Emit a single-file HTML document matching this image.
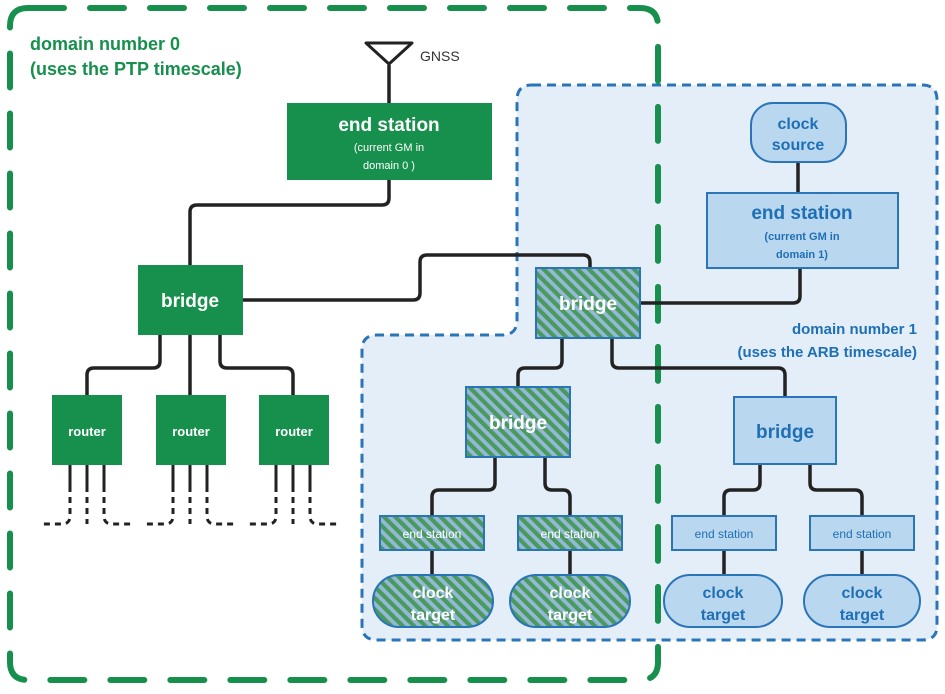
<!DOCTYPE html>
<html><head><meta charset="utf-8"><style>
html,body{margin:0;padding:0;background:#fff;}
svg{display:block;font-family:"Liberation Sans",sans-serif;}
</style></head><body>
<svg width="945" height="694" viewBox="0 0 945 694" xmlns="http://www.w3.org/2000/svg">
<defs>
<pattern id="h" width="8" height="8" patternUnits="userSpaceOnUse" patternTransform="rotate(-45)">
<rect width="8" height="8" fill="#93b9d6"/>
<rect width="4.2" height="8" fill="#4a9a5e"/>
</pattern>
</defs>
<!-- domain 1 region -->
<path d="M532,85 H922 Q937,85 937,100 V626 Q937,640 922,640 H377 Q362,640 362,625 V350 Q362,335 377,335 H502 Q517,335 517,320 V100 Q517,85 532,85 Z" fill="#e3eef8" stroke="#2a74b8" stroke-width="3" stroke-dasharray="9,6"/>
<!-- domain 0 border -->
<path d="M30,8 H640 Q658,8 658,26 V662 Q658,680 640,680 H28 Q10,680 10,662 V26 Q10,8 28,8 Z" fill="none" stroke="#16904c" stroke-width="6" stroke-dasharray="34,26" stroke-linecap="round"/>
<text x="30" y="50" font-size="18" font-weight="bold" fill="#16904c">domain number 0</text>
<text x="30" y="75" font-size="18" font-weight="bold" fill="#16904c">(uses the PTP timescale)</text>
<text x="917" y="334" font-size="15" font-weight="bold" fill="#1f6fb5" text-anchor="end">domain number 1</text>
<text x="917" y="357" font-size="15" font-weight="bold" fill="#1f6fb5" text-anchor="end">(uses the ARB timescale)</text>
<!-- connectors -->
<g fill="none" stroke="#222" stroke-width="3.5" stroke-linejoin="round">
<path d="M389,65 V103"/>
<path d="M389,180 V198 Q389,205 382,205 H197 Q190,205 190,212 V265"/>
<path d="M243,300 H413 Q420,300 420,293 V262 Q420,255 427,255 H583 Q590,255 590,262 V270"/>
<path d="M640,303 H793 Q800,303 800,296 V268"/>
<path d="M798,162 V193"/>
<path d="M562,338 V361 Q562,368 555,368 H525 Q518,368 518,375 V387"/>
<path d="M612,338 V361 Q612,368 619,368 H778 Q785,368 785,375 V397"/>
<path d="M495,457 V483 Q495,490 488,490 H439 Q432,490 432,497 V516"/>
<path d="M545,457 V483 Q545,490 552,490 H563 Q570,490 570,497 V516"/>
<path d="M760,464 V483 Q760,490 753,490 H731 Q724,490 724,497 V516"/>
<path d="M810,464 V483 Q810,490 817,490 H855 Q862,490 862,497 V516"/>
<path d="M432,550 V575 M570,550 V575 M724,550 V575 M862,550 V575"/>
<path d="M160,335 V361 Q160,368 153,368 H94 Q87,368 87,375 V395"/>
<path d="M190,335 V395"/>
<path d="M220,335 V361 Q220,368 227,368 H286 Q293,368 293,375 V395"/>
</g>
<!-- router leads -->
<g fill="none" stroke="#222" stroke-width="3">
<g id="rl">
<path d="M70,465 V492 M87,465 V492 M104,465 V492"/>
<path d="M70,497 V516 Q70,524 62,524 H40" stroke-dasharray="6,5"/>
<path d="M87,497 V524" stroke-dasharray="6,5"/>
<path d="M104,497 V516 Q104,524 112,524 H134" stroke-dasharray="6,5"/>
</g>
<use href="#rl" x="103"/>
<use href="#rl" x="206"/>
</g>
<!-- antenna -->
<path d="M366,43 H412 L389,64 Z" fill="none" stroke="#222" stroke-width="3" stroke-linejoin="round"/>
<text x="420" y="61" font-size="14" fill="#333">GNSS</text>
<!-- green nodes -->
<rect x="287" y="103" width="205" height="77" fill="#16904c"/>
<text x="389" y="131" font-size="19" font-weight="bold" fill="#fff" text-anchor="middle">end station</text>
<text x="389" y="151" font-size="11" fill="#fff" text-anchor="middle">(current GM in</text>
<text x="389" y="169" font-size="11" fill="#fff" text-anchor="middle">domain 0 )</text>
<rect x="138" y="265" width="105" height="70" fill="#16904c"/>
<text x="190" y="307" font-size="19" font-weight="bold" fill="#fff" text-anchor="middle">bridge</text>
<g font-size="13" font-weight="bold" fill="#fff" text-anchor="middle">
<rect x="52" y="395" width="70" height="70" fill="#16904c"/><text x="87" y="436">router</text>
<rect x="156" y="395" width="70" height="70" fill="#16904c"/><text x="191" y="436">router</text>
<rect x="259" y="395" width="70" height="70" fill="#16904c"/><text x="294" y="436">router</text>
</g>
<!-- hatched nodes -->
<g stroke="#2a74b8" stroke-width="2" fill="url(#h)">
<rect x="536" y="268" width="104" height="70"/>
<rect x="466" y="387" width="104" height="70"/>
<rect x="380" y="516" width="104" height="34"/>
<rect x="518" y="516" width="104" height="34"/>
<rect x="373" y="575" width="120" height="52" rx="26"/>
<rect x="510" y="575" width="120" height="52" rx="26"/>
</g>
<g fill="#fff" text-anchor="middle" font-weight="bold">
<text x="588" y="310" font-size="19">bridge</text>
<text x="518" y="429" font-size="19">bridge</text>
<text x="432" y="538" font-size="12" font-weight="normal">end station</text>
<text x="570" y="538" font-size="12" font-weight="normal">end station</text>
<text x="433" y="598" font-size="16">clock</text>
<text x="433" y="620" font-size="16">target</text>
<text x="570" y="598" font-size="16">clock</text>
<text x="570" y="620" font-size="16">target</text>
</g>
<!-- blue nodes -->
<g stroke="#2a74b8" stroke-width="2" fill="#b9d7ee">
<rect x="751" y="103" width="95" height="59" rx="22"/>
<rect x="707" y="193" width="191" height="75"/>
<rect x="734" y="397" width="102" height="67"/>
<rect x="672" y="516" width="104" height="34"/>
<rect x="810" y="516" width="104" height="34"/>
<rect x="664" y="575" width="118" height="52" rx="26"/>
<rect x="804" y="575" width="116" height="52" rx="26"/>
</g>
<g fill="#1f6fb5" text-anchor="middle" font-weight="bold">
<text x="798" y="129" font-size="16">clock</text>
<text x="798" y="150" font-size="16">source</text>
<text x="802" y="219" font-size="19">end station</text>
<text x="802" y="240" font-size="11">(current GM in</text>
<text x="802" y="258" font-size="11">domain 1)</text>
<text x="785" y="438" font-size="19">bridge</text>
<text x="724" y="538" font-size="12" font-weight="normal">end station</text>
<text x="862" y="538" font-size="12" font-weight="normal">end station</text>
<text x="723" y="598" font-size="16">clock</text>
<text x="723" y="620" font-size="16">target</text>
<text x="862" y="598" font-size="16">clock</text>
<text x="862" y="620" font-size="16">target</text>
</g>
</svg>
</body></html>
